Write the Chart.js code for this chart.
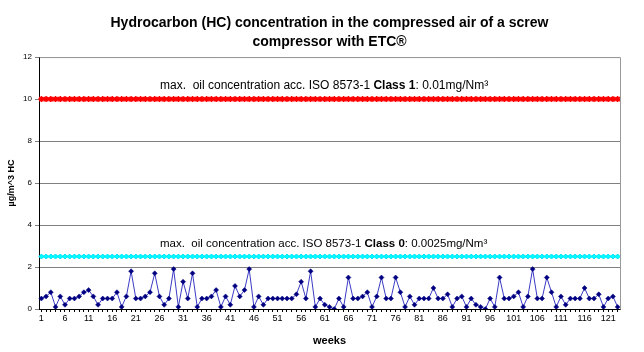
<!DOCTYPE html>
<html>
<head>
<meta charset="utf-8">
<script src="https://cdn.jsdelivr.net/npm/chart.js@4/dist/chart.umd.min.js"></script>
<style>
html,body{margin:0;padding:0;background:#fff;}
#wrap{width:644px;height:352px;}
</style>
</head>
<body>
<div id="wrap"><canvas id="c" width="644" height="352"></canvas></div>
<script>
const weeks = Array.from({length:123},(_,i)=>String(i+1));
const hcValues = [
0.5,0.6,0.8,0.1,0.6,0.2,0.5,0.5,0.6,0.8,
0.9,0.6,0.2,0.5,0.5,0.5,0.8,0.1,0.6,1.8,
0.5,0.5,0.6,0.8,1.7,0.6,0.2,0.5,1.9,0.1,
1.3,0.5,1.7,0.1,0.5,0.5,0.6,0.9,0.1,0.6,
0.2,1.1,0.6,0.9,1.9,0.1,0.6,0.2,0.5,0.5,
0.5,0.5,0.5,0.5,0.7,1.3,0.5,1.8,0.1,0.5,
0.2,0.1,0.0,0.5,0.1,1.5,0.5,0.5,0.6,0.8,
0.1,0.6,1.5,0.5,0.5,1.5,0.8,0.1,0.6,0.2,
0.5,0.5,0.5,1.0,0.5,0.5,0.7,0.1,0.5,0.6,
0.1,0.5,0.2,0.1,0.0,0.5,0.1,1.5,0.5,0.5,
0.6,0.8,0.1,0.6,1.9,0.5,0.5,1.5,0.8,0.1,
0.6,0.2,0.5,0.5,0.5,1.0,0.5,0.5,0.7,0.1,
0.5,0.6,0.1
];
const class1Limit = weeks.map(()=>10);
const class0Limit = weeks.map(()=>2.5);
const titleLines = ['Hydrocarbon (HC) concentration in the compressed air of a screw','compressor with ETC®'];
const yTitle = 'µg/m^3 HC';
const xTitle = 'weeks';
const note1 = ['max.  oil concentration acc. ISO 8573-1 ', 'Class 1', ': 0.01mg/Nm³'];
const note2 = ['max.  oil concentration acc. ISO 8573-1 ', 'Class 0', ': 0.0025mg/Nm³'];
const note1Y = 10.65, note2Y = 3.1;

const FONT = 'Arial, "Liberation Sans", sans-serif';

const framePlugin = {
  id:'frame',
  beforeDraw(chart){
    const ctx = chart.ctx;
    ctx.save(); ctx.fillStyle='#fff'; ctx.fillRect(0,0,chart.width,chart.height); ctx.restore();
  },
  afterDatasetsDraw(chart){
    const {ctx, chartArea:a, scales} = chart;
    ctx.save();
    ctx.strokeStyle='#9a9a9a'; ctx.lineWidth=1;
    ctx.beginPath();
    ctx.moveTo(a.left+0.5,a.top+0.5); ctx.lineTo(a.right+0.5,a.top+0.5); ctx.lineTo(a.right+0.5,a.bottom+0.5);
    ctx.stroke();
    const drawNote=(parts,yv,size)=>{
      const y = scales.y.getPixelForValue(yv);
      const fonts=[size+'px '+FONT,'bold '+size+'px '+FONT,size+'px '+FONT];
      let x=a.left+121;
      ctx.fillStyle='#000'; ctx.textBaseline='middle';
      parts.forEach((p,i)=>{ctx.font=fonts[i]; ctx.fillText(p,x,y); x+=ctx.measureText(p).width;});
    };
    drawNote(note1,note1Y,12);
    drawNote(note2,note2Y,11.5);
    ctx.restore();
  }
};

new Chart(document.getElementById('c'),{
  type:'line',
  data:{
    labels:weeks,
    datasets:[
      {label:'Class 1',data:class1Limit,borderColor:'#ff0000',backgroundColor:'#ff0000',borderWidth:2.5,
       pointStyle:'star',pointRadius:3,pointBorderColor:'#ff0000',pointBorderWidth:1.5,order:2},
      {label:'Class 0',data:class0Limit,borderColor:'#00ffff',backgroundColor:'#00ffff',borderWidth:2,
       pointStyle:'rectRot',pointRadius:2.5,pointBorderColor:'#00e0ff',pointBackgroundColor:'#00ffff',pointBorderWidth:1,order:2},
      {label:'HC',data:hcValues,borderColor:'#3b3bc4',borderWidth:1,
       pointStyle:'rectRot',pointRadius:2.5,pointBackgroundColor:'#000080',pointBorderColor:'#000080',pointBorderWidth:0.5,order:1}
    ]
  },
  options:{
    responsive:false,animation:false,
    layout:{padding:{left:6,right:24,top:14,bottom:4}},
    plugins:{
      legend:{display:false},tooltip:{enabled:false},
      title:{display:true,text:titleLines,fullSize:false,color:'#000',
        font:{family:FONT,size:14,weight:'bold',lineHeight:1.36},padding:{top:0,bottom:5}}
    },
    scales:{
      x:{
        offset:true,
        grid:{display:true,drawOnChartArea:false,drawTicks:true,tickLength:3,color:'#000',offset:false},
        border:{display:true,color:'#000',width:1},
        ticks:{autoSkip:false,maxRotation:0,color:'#000',font:{family:FONT,size:9},padding:1,
          callback:(v,i)=> (i%5===0? weeks[i] : '')},
        title:{display:true,text:xTitle,color:'#000',font:{family:FONT,size:11,weight:'bold'},padding:{top:9,bottom:0}},
        afterFit(s){s.height=39;}
      },
      y:{
        min:0,max:12,
        grid:{color:'#808080',drawTicks:true,tickLength:4,lineWidth:1},
        border:{display:true,color:'#000'},
        ticks:{stepSize:2,color:'#000',font:{family:FONT,size:8},padding:3},
        title:{display:true,text:yTitle,color:'#000',font:{family:FONT,size:9,weight:'bold'},padding:{top:0,bottom:5}},
        afterFit(s){s.width=33;}
      }
    }
  },
  plugins:[framePlugin]
});
</script>
</body>
</html>
